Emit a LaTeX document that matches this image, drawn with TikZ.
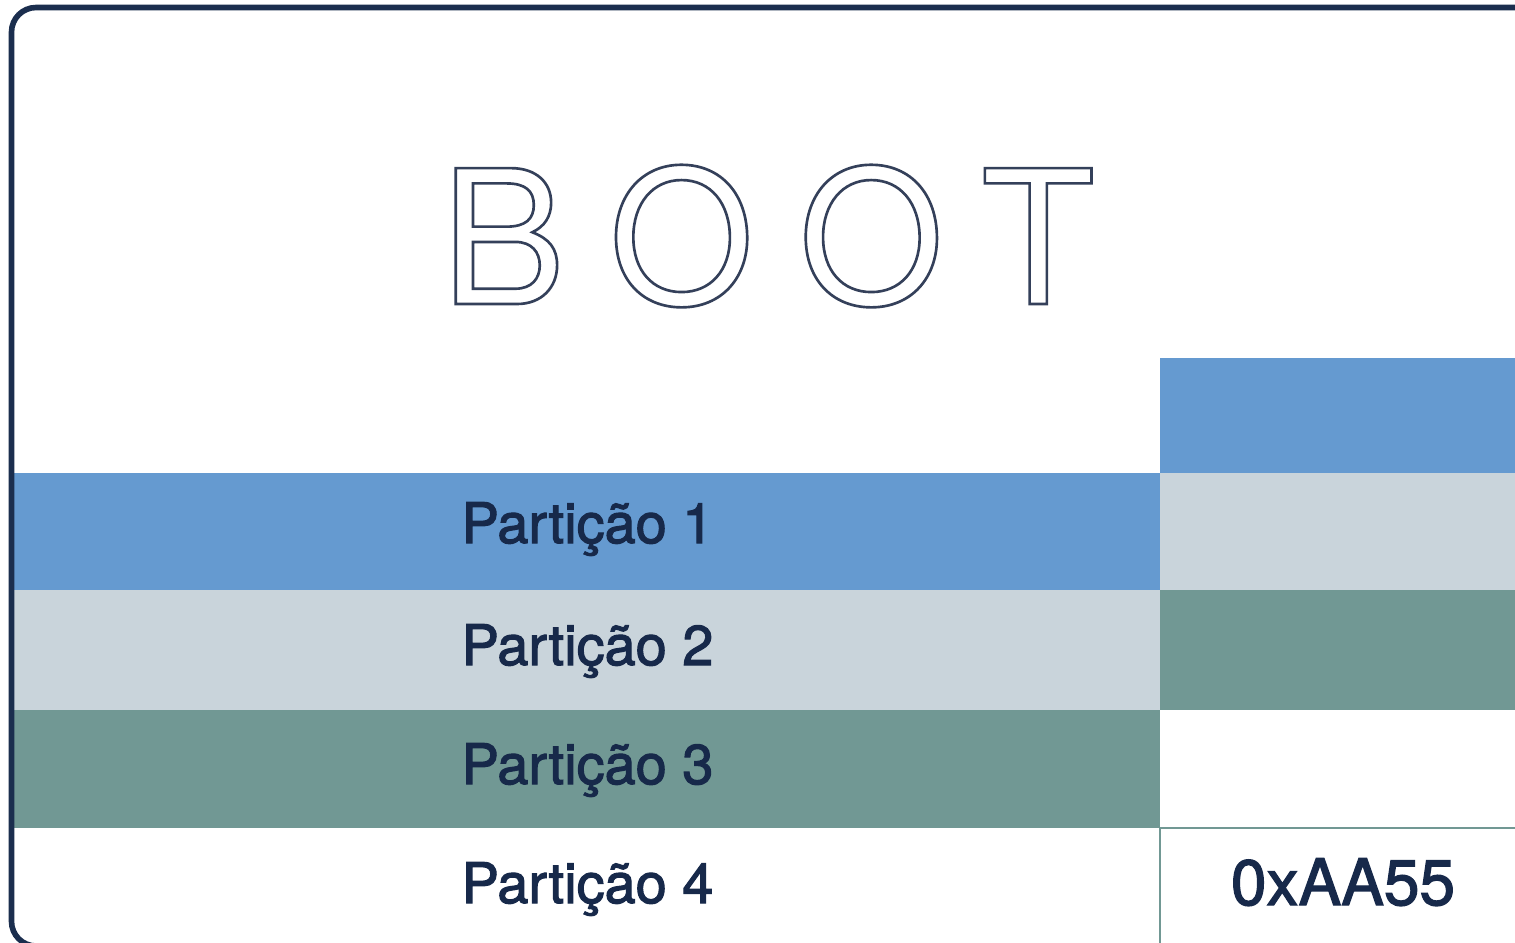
\documentclass[tikz,border=0pt]{standalone}
\usepackage{fontspec}
\usepackage{tikz}
\usepackage{xcolor}
\setmainfont{TeX Gyre Heros}
\newfontfamily\partfont[FakeBold=2]{TeX Gyre Heros}
\newfontfamily\bootfont[LetterSpace=24]{TeX Gyre Heros}
\definecolor{bl}{HTML}{659AD0}
\definecolor{gr}{HTML}{C9D4DB}
\definecolor{tl}{HTML}{719894}
\definecolor{nv}{HTML}{1B2E4E}
\definecolor{tx}{HTML}{17294A}
\definecolor{ol}{HTML}{34405A}
\newcommand{\hollow}[1]{\special{pdf:literal direct 1 Tr 0.75 w}#1\special{pdf:literal direct 0 Tr}}

\begin{document}
\begin{tikzpicture}[x=0.01cm,y=-0.01cm]
            \tikzstyle{every node}=[text=tx,inner sep=0pt]
            \tikzstyle{part}=[anchor=base west,font=\partfont\fontsize{15.9}{18}\selectfont]
            \useasboundingbox (0,0) rectangle (1515,942);
            \clip (0,0) rectangle (1515,942);
            \fill[white] (0,0) rectangle (1515,942);
            % partition rows
            \fill[bl] (13,473) rectangle (1160,590);
            \fill[gr] (13,590) rectangle (1160,710);
            \fill[tl] (13,710) rectangle (1160,828);
            % right column
            \fill[bl] (1160,358) rectangle (1550,473);
            \fill[gr] (1160,473) rectangle (1550,590);
            \fill[tl] (1160,590) rectangle (1550,710);
            \draw[tl,line width=0.6pt] (1550,828) -- (1160,828) -- (1160,950);
            \node[font=\bootfont\fontsize{53}{58}\selectfont,text=ol,anchor=base] (boot) at (768,304) {\hollow{BOOT}};
            \node[part] (p1) at (461,543) {Partição 1};
            \node[part] (p2) at (461,665) {Partição 2};
            \node[part] (p3) at (461,784) {Partição 3};
            \node[part] (p4) at (461,903) {Partição 4};
            \node[font=\partfont\fontsize{18.2}{20}\selectfont,anchor=base] (sig) at (1343,905) {0xAA55};
            \draw[nv,line width=1.6pt,rounded corners=7pt] (11.5,7.5) rectangle (1545,946);
          \end{tikzpicture}
\end{document}
